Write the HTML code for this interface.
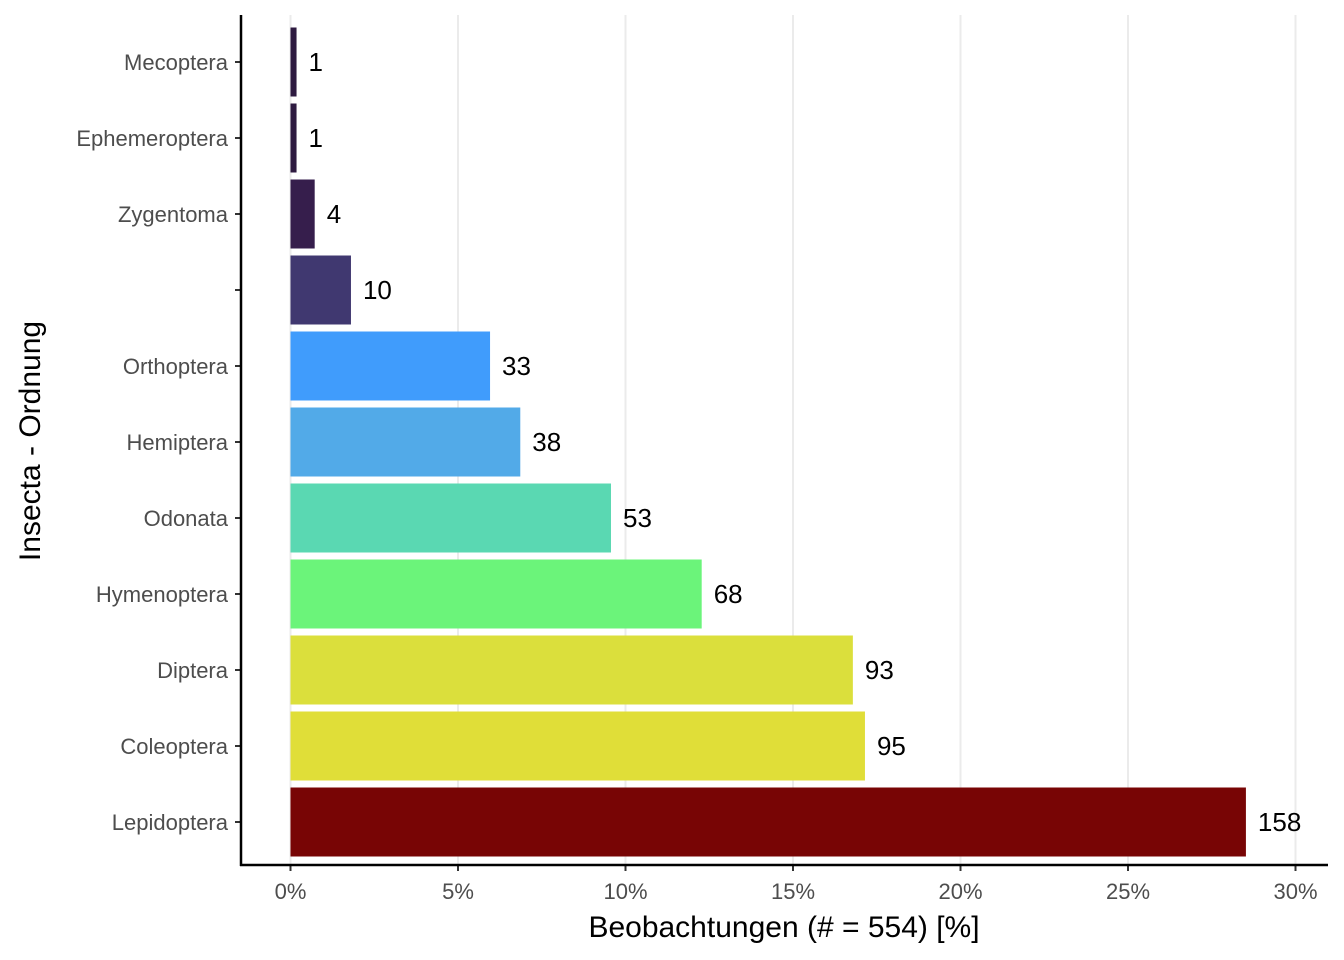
<!DOCTYPE html>
<html><head><meta charset="utf-8"><style>
body{margin:0;background:#fff;}
svg{display:block;font-family:"Liberation Sans",sans-serif;}
</style></head><body>
<svg id="chart" width="1344" height="960"></svg>
<script>
const categories=["Mecoptera","Ephemeroptera","Zygentoma","","Orthoptera","Hemiptera","Odonata","Hymenoptera","Diptera","Coleoptera","Lepidoptera"];
const counts=[1,1,4,10,33,38,53,68,93,95,158];
const colors=["#2e1a40","#2e1a40","#361e4c","#403870","#409cfc","#52aae8","#5ad8b2","#6bf47a","#dbdf3c","#e0de38","#780505"];
const xTicks=[0,5,10,15,20,25,30];
const total=554;
const svg=document.getElementById('chart');
const NS='http://www.w3.org/2000/svg';
const x=p=>290.5+p*33.5;
const y=i=>62+i*76;
function mk(t,a,p){const e=document.createElementNS(NS,t);for(const k in a)e.setAttribute(k,a[k]);(p||svg).appendChild(e);return e;}
xTicks.forEach(t=>{
  const g=mk('line',{x1:x(t),x2:x(t),y1:15,y2:865,stroke:'#ebebeb','stroke-width':2});
  
  
  const tk=mk('line',{x1:x(t),x2:x(t),y1:865,y2:871,stroke:'#333','stroke-width':2});
  
  
  const l=mk('text',{x:x(t),y:899,'text-anchor':'middle','font-size':22,fill:'#4d4d4d'});
  l.textContent=t+'%';
  
  
});
categories.forEach((c,i)=>{
  const p=counts[i]/total*100;
  const b=mk('rect',{x:x(0),y:y(i)-34.5,width:x(p)-x(0),height:69,fill:colors[i]});
  
  
  const v=mk('text',{x:x(p)+12,y:y(i)+9,'font-size':26,fill:'#000'});
  v.textContent=counts[i];
  
  
  const tk=mk('line',{x1:235,x2:241,y1:y(i),y2:y(i),stroke:'#333','stroke-width':2});
  
  
  const l=mk('text',{x:228,y:y(i)+8,'text-anchor':'end','font-size':22,fill:'#4d4d4d'});
  l.textContent=c;
  
  
});
const ax=mk('line',{x1:241,x2:241,y1:15,y2:866,stroke:'#000','stroke-width':2.5});


const axx=mk('line',{x1:240,x2:1328,y1:865,y2:865,stroke:'#000','stroke-width':2.5});


const xt=mk('text',{x:784,y:937,'text-anchor':'middle','font-size':30,fill:'#000'});
xt.textContent='Beobachtungen (# = 554) [%]';


const yt=mk('text',{x:0,y:0,'text-anchor':'middle','font-size':30,fill:'#000',transform:'translate(40,441) rotate(-90)'});
yt.textContent='Insecta - Ordnung';


</script>
</body></html>
